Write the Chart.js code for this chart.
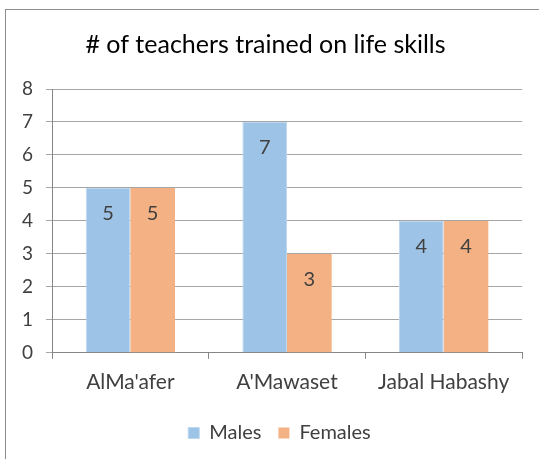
<!DOCTYPE html>
<html>
<head>
<meta charset="utf-8">
<script src="https://cdn.jsdelivr.net/npm/chart.js@4"></script>
<style>
  html, body { margin: 0; padding: 0; background: #fff; }
  #frame {
    position: absolute; left: 5px; top: 9px; width: 560px; height: 480px;
    border: 1px solid #8c8c8c; box-sizing: border-box;
  }
  #wrap { position: absolute; left: 0; top: 0; width: 539px; height: 459px; }
</style>
</head>
<body>
<div id="frame"></div>
<div id="wrap"><canvas id="trainedChart"></canvas></div>
<script>
const categories = ["AlMa'afer", "A'Mawaset", "Jabal Habashy"];
const males = [5, 7, 4];
const females = [5, 3, 4];
const yTicks = [0, 1, 2, 3, 4, 5, 6, 7, 8];

const colorBlue = '#9DC3E6';
const colorOrange = '#F4B183';
const textDark = '#404040';
const fontFamily = 'Lato, "Open Sans", sans-serif';

// draw the value just under the top of each bar, like Excel's "inside end"
const insideEndLabels = {
    id: 'insideEndLabels',
    afterDatasetsDraw(chart) {
        const ctx = chart.ctx;
        ctx.save();
        ctx.font = '20px ' + fontFamily;
        ctx.fillStyle = textDark;
        ctx.textAlign = 'center';
        ctx.textBaseline = 'middle';
        chart.data.datasets.forEach((ds, i) => {
            chart.getDatasetMeta(i).data.forEach((bar, j) => {
                ctx.fillText(String(ds.data[j]), bar.x, bar.y + 26);
            });
        });
        ctx.restore();
    }
};

// legend in the original sits a bit right of centre
const nudgeLegend = {
    id: 'nudgeLegend',
    afterUpdate(chart) {
        const lg = chart.legend;
        if (!lg) return;
        lg.left += 14;
        lg.right += 14;
        lg.adjustHitBoxes();
    }
};

const ctx = document.getElementById('trainedChart').getContext('2d');
new Chart(ctx, {
    type: 'bar',
    data: {
        labels: categories,
        datasets: [
            { label: 'Males', data: males, backgroundColor: colorBlue, borderColor: '#BDD7EE', borderWidth: 1 },
            { label: 'Females', data: females, backgroundColor: colorOrange, borderColor: colorOrange, borderWidth: 0 }
        ]
    },
    options: {
        responsive: true,
        maintainAspectRatio: false,
        animation: false,
        categoryPercentage: 0.57,
        barPercentage: 1.0,
        layout: { padding: { left: 9, right: 17, top: 8, bottom: 6 } },
        plugins: {
            title: {
                display: true,
                text: '# of teachers trained on life skills',
                color: '#000',
                font: { family: fontFamily, size: 25, weight: 'normal' },
                padding: { top: 22, bottom: 29 }
            },
            legend: {
                position: 'bottom',
                labels: {
                    color: textDark,
                    font: { family: fontFamily, size: 20 },
                    boxWidth: 11,
                    boxHeight: 11,
                    padding: 17
                }
            },
            tooltip: { enabled: false }
        },
        scales: {
            y: {
                min: 0,
                max: 8,
                afterBuildTicks: axis => { axis.ticks = yTicks.map(v => ({ value: v })); },
                grid: { color: '#A6A6A6', tickLength: 6, lineWidth: 1 },
                border: { color: '#868686' },
                ticks: { color: textDark, font: { family: fontFamily, size: 19 }, padding: 13 }
            },
            x: {
                grid: { display: true, drawOnChartArea: false, offset: true, color: '#868686', tickLength: 6 },
                border: { color: '#868686' },
                ticks: { color: textDark, font: { family: fontFamily, size: 21 }, padding: 11 }
            }
        }
    },
    plugins: [insideEndLabels, nudgeLegend]
});
</script>
</body>
</html>
